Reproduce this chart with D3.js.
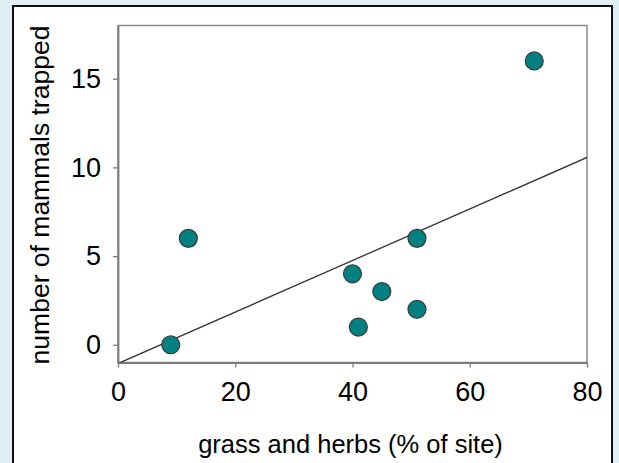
<!DOCTYPE html>
<html>
<head>
<meta charset="utf-8">
<script src="https://cdn.jsdelivr.net/npm/d3@7/dist/d3.min.js"></script>
<style>
  html, body { margin: 0; padding: 0; background: #e1eef4; }
  svg { display: block; }
</style>
</head>
<body>
<script>
// grass and herbs (% of site) vs number of mammals trapped
const grassPct = [9, 12, 40, 41, 45, 51, 51, 71];
const mammals = [0, 6, 4, 1, 3, 6, 2, 16];
const xTicks = [0, 20, 40, 60, 80];
const yTicks = [0, 5, 10, 15];

const W = 619, H = 463;
const font = "Arial, 'Liberation Sans', sans-serif";

const svg = d3.select("body").append("svg")
    .attr("width", W)
    .attr("height", H);

// white panel with black border
svg.append("rect")
    .attr("x", 13).attr("y", 6)
    .attr("width", 599).attr("height", 470)
    .attr("fill", "#fff")
    .attr("stroke", "#111")
    .attr("stroke-width", 2);

const plot = { left: 118, top: 25.5, right: 587, bottom: 362.5 };

const x = d3.scaleLinear().domain([0, 80]).range([plot.left, plot.right]);
const y = d3.scaleLinear().domain([-1, 18]).range([plot.bottom, plot.top]);

svg.append("clipPath").attr("id", "clip")
    .append("rect")
    .attr("x", plot.left).attr("y", plot.top)
    .attr("width", plot.right - plot.left)
    .attr("height", plot.bottom - plot.top);

// frame
svg.append("rect")
    .attr("x", plot.left).attr("y", plot.top)
    .attr("width", plot.right - plot.left)
    .attr("height", plot.bottom - plot.top)
    .attr("fill", "none")
    .attr("stroke", "#8a8a8a")
    .attr("stroke-width", 1.5);

// axes
const xAxis = svg.append("g")
    .attr("transform", `translate(0,${plot.bottom})`)
    .call(d3.axisBottom(x).tickValues(xTicks).tickSize(5).tickSizeOuter(0).tickPadding(14.5));
const yAxis = svg.append("g")
    .attr("transform", `translate(${plot.left},0)`)
    .call(d3.axisLeft(y).tickValues(yTicks).tickSize(5).tickSizeOuter(0).tickPadding(12));

[xAxis, yAxis].forEach(a => {
    a.select(".domain").attr("stroke", "#7a7a7a").attr("stroke-width", 1.8);
    a.selectAll(".tick line").attr("stroke", "#7a7a7a").attr("stroke-width", 1.3);
    a.selectAll(".tick text")
        .attr("fill", "#000")
        .style("font-family", font)
        .style("font-size", "27px");
});

// least-squares fit line
const mx = d3.mean(grassPct), my = d3.mean(mammals);
const slope = d3.sum(grassPct, (v, i) => (v - mx) * (mammals[i] - my)) /
    d3.sum(grassPct, v => (v - mx) * (v - mx));
const intercept = my - slope * mx;

svg.append("line")
    .attr("clip-path", "url(#clip)")
    .attr("x1", x(0)).attr("y1", y(intercept))
    .attr("x2", x(80)).attr("y2", y(intercept + slope * 80))
    .attr("stroke", "#333")
    .attr("stroke-width", 1.3);

// points
svg.append("g")
    .selectAll("circle")
    .data(grassPct)
    .enter()
    .append("circle")
    .attr("cx", d => x(d))
    .attr("cy", (d, i) => y(mammals[i]))
    .attr("r", 9)
    .attr("fill", "#008080")
    .attr("stroke", "#3a3a3a")
    .attr("stroke-width", 1.2);

// axis labels
svg.append("text")
    .attr("x", (plot.left + plot.right) / 2 - 2)
    .attr("y", 453)
    .attr("text-anchor", "middle")
    .attr("fill", "#000")
    .style("font-family", font)
    .style("font-size", "25.5px")
    .text("grass and herbs (% of site)");

svg.append("text")
    .attr("transform", "translate(49,195) rotate(-90)")
    .attr("text-anchor", "middle")
    .attr("fill", "#000")
    .style("font-family", font)
    .style("font-size", "26.5px")
    .text("number of mammals trapped");
</script>
</body>
</html>
